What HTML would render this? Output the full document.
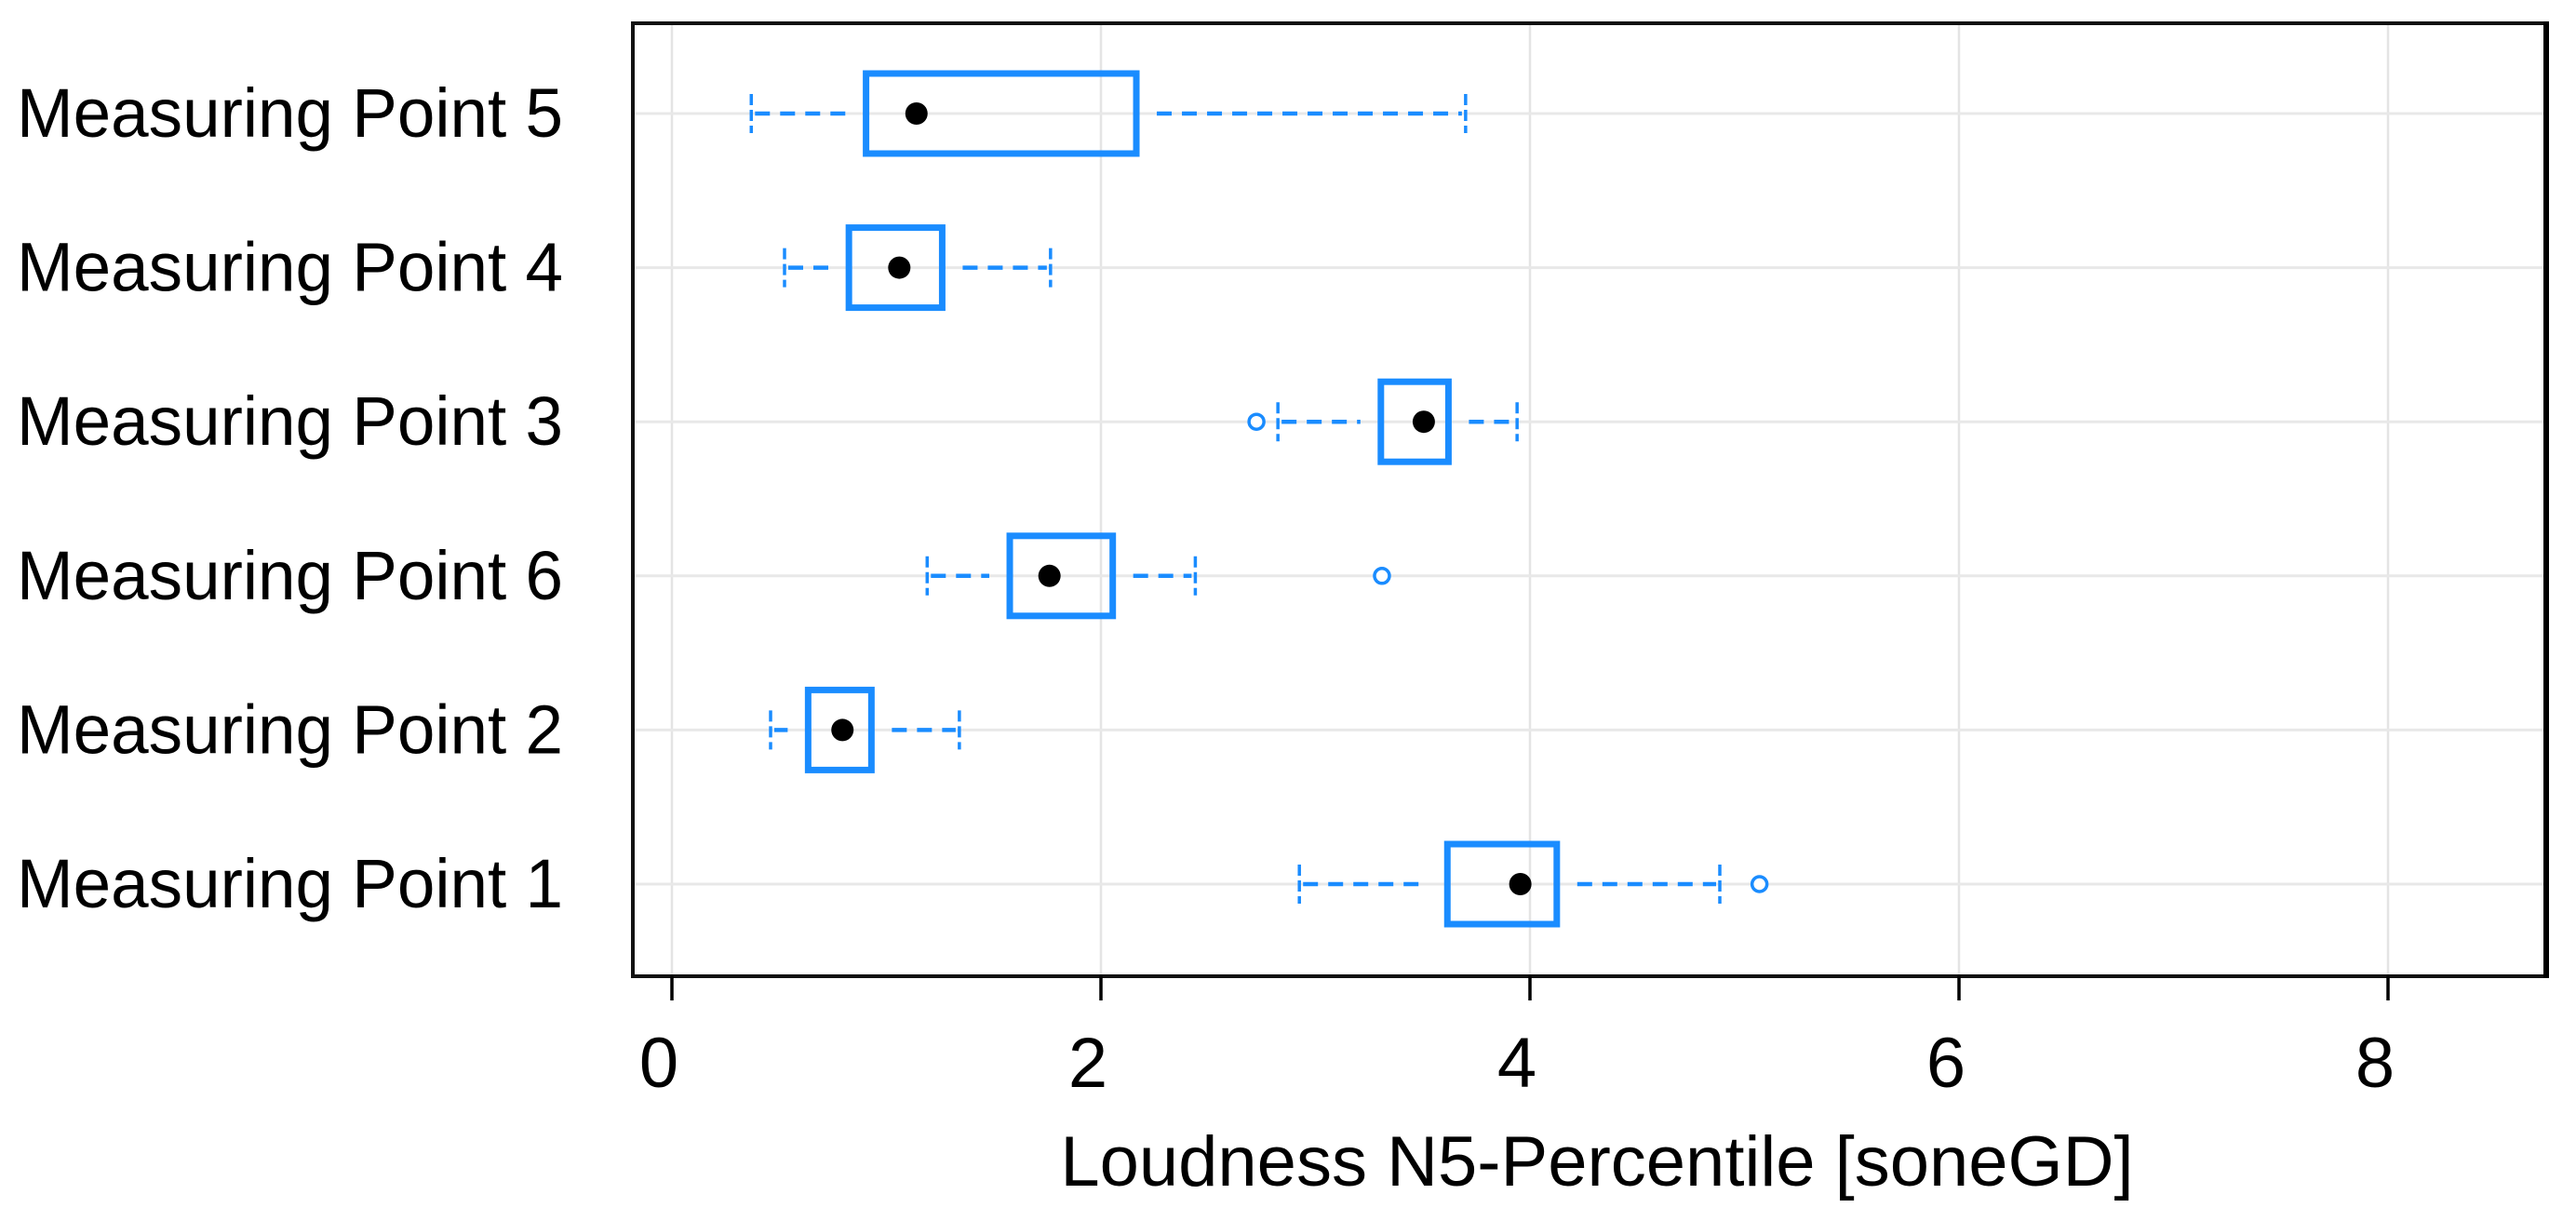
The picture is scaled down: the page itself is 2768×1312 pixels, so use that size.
<!DOCTYPE html>
<html><head><meta charset="utf-8"><style>
html,body{margin:0;padding:0;background:#fff;}
svg{display:block;font-family:"Liberation Sans",Arial,sans-serif;}
</style></head><body>
<svg id="chart" width="2768" height="1312" viewBox="0 0 2768 1312" xmlns="http://www.w3.org/2000/svg">
<g id="grid"></g>
<g id="boxes"></g>
<g id="axes"></g>
</svg>
<script>
const categories = ["Measuring Point 5","Measuring Point 4","Measuring Point 3","Measuring Point 6","Measuring Point 2","Measuring Point 1"];
const whiskerLow = [0.37, 0.525, 2.825, 1.19, 0.46, 2.925];
const q1 = [0.905, 0.825, 3.305, 1.575, 0.635, 3.615];
const medians = [1.14, 1.06, 3.505, 1.76, 0.795, 3.955];
const q3 = [2.165, 1.26, 3.62, 2.055, 0.93, 4.125];
const whiskerHigh = [3.70, 1.765, 3.94, 2.44, 1.34, 4.885];
const outliers = [[], [], [2.725], [3.31], [], [5.07]];
const xTicks = [0, 2, 4, 6, 8];
const xTickLabels = ["0","2","4","6","8"];

const NS = "http://www.w3.org/2000/svg";
const L = 680, R = 2736, T = 25, B = 1049;
const xMin = -0.1822, xMax = 8.7375;
function xs(v){ return L + (v - xMin) / (xMax - xMin) * (R - L); }
function ys(i){ return 122 + i * 165.6; }
function mk(parent, tag, attrs){
  const e = document.createElementNS(NS, tag);
  for (const k in attrs) e.setAttribute(k, attrs[k]);
  parent.appendChild(e); return e;
}
const grid = document.getElementById('grid');
const boxes = document.getElementById('boxes');
const axes = document.getElementById('axes');
const BLUE = "#1a8cff";

xTicks.forEach(function(t){
  const g = mk(grid, 'line', {x1: xs(t), x2: xs(t), y1: T, y2: B, stroke: '#e4e4e4', 'stroke-width': 2.5});
  
  
});
categories.forEach(function(c, i){
  const g = mk(grid, 'line', {x1: L, x2: R, y1: ys(i), y2: ys(i), stroke: '#e8e8e8', 'stroke-width': 3});
  
  
});

categories.forEach(function(c, i){
  const y = ys(i), h = 43, cap = 21, gap = 22;
  const grp = mk(boxes, 'g', {});
  
  
  const w1 = mk(grp, 'line', {x1: xs(whiskerLow[i]) + 4, x2: xs(q1[i]) - gap, y1: y, y2: y, stroke: BLUE, 'stroke-width': 4.5, 'stroke-dasharray': '16 11'});
  
  
  const w2 = mk(grp, 'line', {x1: xs(q3[i]) + gap, x2: xs(whiskerHigh[i]) - 4, y1: y, y2: y, stroke: BLUE, 'stroke-width': 4.5, 'stroke-dasharray': '16 11'});
  
  
  [whiskerLow[i], whiskerHigh[i]].forEach(function(v){
    const cp = mk(grp, 'line', {x1: xs(v), x2: xs(v), y1: y - cap, y2: y + cap, stroke: BLUE, 'stroke-width': 3.5, 'stroke-dasharray': '12 5'});
    
    
  });
  const rect = mk(grp, 'rect', {x: xs(q1[i]), y: y - h, width: xs(q3[i]) - xs(q1[i]), height: 2 * h, fill: 'none', stroke: BLUE, 'stroke-width': 7});
  
  
  const md = mk(grp, 'circle', {cx: xs(medians[i]), cy: y, r: 12, fill: '#000'});
  
  
  outliers[i].forEach(function(o){
    const oc = mk(grp, 'circle', {cx: xs(o), cy: y, r: 8, fill: '#fff', stroke: BLUE, 'stroke-width': 3.5});
    
    
  });
  const lab = mk(axes, 'text', {x: 18, y: y + 25, 'font-size': 74, fill: '#000', textLength: 587, lengthAdjust: 'spacingAndGlyphs'});
  lab.textContent = c;
  
  
});

const frame = mk(axes, 'rect', {x: L, y: T, width: R - L, height: B - T, fill: 'none', stroke: '#111', 'stroke-width': 4});


const rb = mk(axes, 'line', {x1: R, x2: R, y1: T - 2, y2: B + 2, stroke: '#000', 'stroke-width': 6});



xTicks.forEach(function(t, k){
  const tm = mk(axes, 'line', {x1: xs(t), x2: xs(t), y1: B, y2: B + 26, stroke: '#000', 'stroke-width': 3.5});
  
  
  const tl = mk(axes, 'text', {x: xs(t) - 14, y: 1168, 'text-anchor': 'middle', 'font-size': 76, fill: '#000'});
  tl.textContent = xTickLabels[k];
  
  
});
const title = mk(axes, 'text', {x: 1716, y: 1274, 'text-anchor': 'middle', 'font-size': 76, fill: '#000'});
title.textContent = "Loudness N5-Percentile [soneGD]";


</script>
</body></html>
